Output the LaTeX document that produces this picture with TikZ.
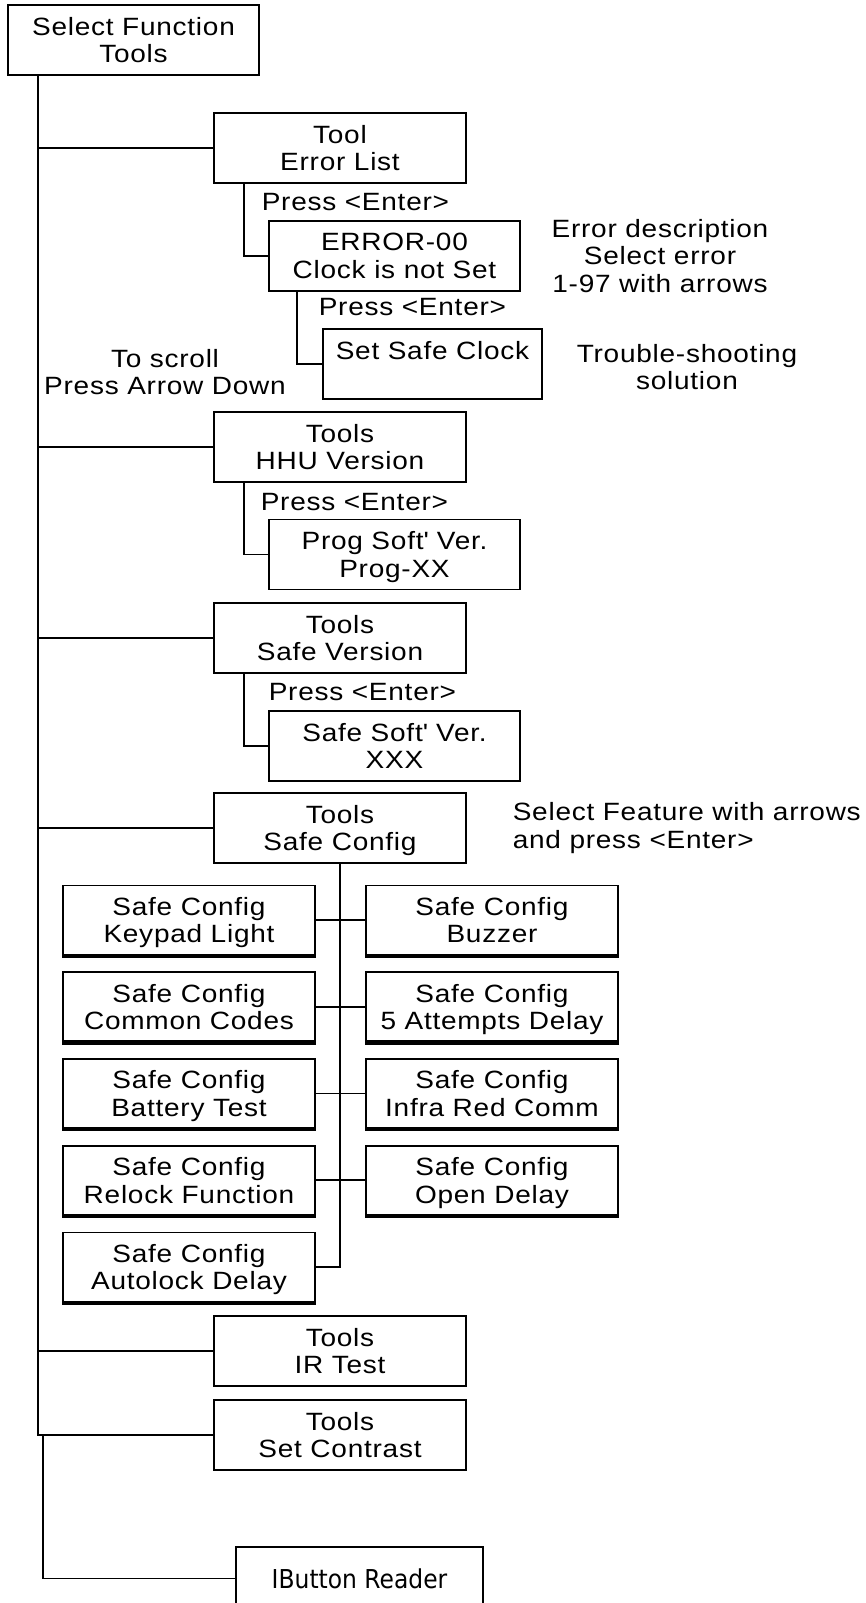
\documentclass[tikz,border=0pt]{standalone}
\usepackage{fontspec}
\setmainfont{Liberation Sans}[FakeStretch=1.12,LetterSpace=3]
\newfontfamily\readerfont{DejaVu Sans}[FakeStretch=0.9]
\usepackage{tikz}

\begin{document}
\begin{tikzpicture}[x=1pt, y=-1pt, line width=1.6pt,
    every node/.style={font=\fontsize{25}{27.5}\selectfont},
    box/.style={draw, rectangle, inner sep=0pt, align=center, minimum height=70pt, text depth=0pt},
    toolbox/.style={box, minimum width=252pt},
    subbox/.style={box, minimum width=251pt},
    cfgbox/.style={box, minimum width=252pt, minimum height=69pt},
    note/.style={align=center, inner sep=0pt}]
    \useasboundingbox (0,0) rectangle (866,1603);
    \clip (0,0) rectangle (866,1603);
    % Main menu and tool entries
    \node[box, minimum width=251pt] (sel) at (133.5, 40) {Select Function\\Tools};
    \node[toolbox] (errlist) at (340, 148) {Tool\\Error List};
    \node[toolbox] (hhu) at (340, 447) {Tools\\HHU Version};
    \node[toolbox] (safever) at (340, 638) {Tools\\Safe Version};
    \node[toolbox] (safecfg) at (340, 828) {Tools\\Safe Config};
    \node[toolbox] (irtest) at (340, 1351) {Tools\\IR Test};
    \node[toolbox] (contrast) at (340, 1435) {Tools\\Set Contrast};
    \node[box, minimum width=247pt, minimum height=63pt, font=\readerfont\fontsize{26}{30}\selectfont] (ibutton) at (359.5, 1578.5) {IButton Reader};
    % Sub entries
    \node[subbox] (error00) at (394.5, 256) {ERROR-00\\Clock is not Set};
    \node[box, minimum width=219pt] (setclock) at (432.5, 364) {Set Safe Clock\\\phantom{X}};
    \node[subbox] (progver) at (394.5, 554.5) {Prog Soft\textquotesingle{} Ver.\\Prog-XX};
    \node[subbox] (safesoft) at (394.5, 746) {Safe Soft\textquotesingle{} Ver.\\XXX};
    % Trunk and branches
    \coordinate (trunk) at ([xshift=30.5pt]sel.south west);
    \draw (trunk) |- (contrast.west);
    \foreach \t in {errlist, hhu, safever, safecfg, irtest} {
        \draw (trunk |- \t.west) -- (\t.west);
    }
    \draw ([xshift=5.5pt]trunk |- contrast.west) |- (ibutton.west);
    \draw ([xshift=31pt]errlist.south west) |- (error00.west);
    \draw ([xshift=29pt]error00.south west) |- (setclock.west);
    \draw ([xshift=31pt]hhu.south west) |- (progver.west);
    \draw ([xshift=31pt]safever.south west) |- (safesoft.west);
    % Press <Enter> labels
    \node[note, anchor=west] (enter1) at (261, 202) {Press <Enter>};
    \node[note, anchor=west] (enter2) at (318, 307) {Press <Enter>};
    \node[note, anchor=west] (enter3) at (260, 502) {Press <Enter>};
    \node[note, anchor=west] (enter4) at (268, 692) {Press <Enter>};
    % Notes
    \node[note] (errnote) at (660, 256) {Error description\\Select error\\1-97 with arrows};
    \node[note] (fixnote) at (687, 367) {Trouble-shooting\\solution};
    \node[note] (scrollnote) at (165, 372) {To scroll\\Press Arrow Down};
    \node[note, anchor=west, align=left] (cfgnote) at (512, 828) {Select Feature with arrows\\and press <Enter>};
    % Safe config features
    \foreach \i/\lname/\rname in {0/Keypad Light/Buzzer, 1/Common Codes/5 Attempts Delay, 2/Battery Test/Infra Red Comm, 3/Relock Function/Open Delay} {
        \node[cfgbox] (cl\i) at (189, {920+86.75*\i}) {Safe Config\\\lname};
        \node[cfgbox] (cr\i) at (492, {920+86.75*\i}) {Safe Config\\\rname};
        \draw (cl\i.east) -- (cr\i.west);
    }
    \node[cfgbox] (cl4) at (189, 1267) {Safe Config\\Autolock Delay};
    \draw (safecfg.south) |- (cl4.east);
    \foreach \n in {cl0, cr0, cl1, cr1, cl2, cr2, cl3, cr3, cl4} {
        \draw[line width=3pt] ([yshift=-1pt]\n.south west) -- ([yshift=-1pt]\n.south east);
    }
\end{tikzpicture}
\end{document}
